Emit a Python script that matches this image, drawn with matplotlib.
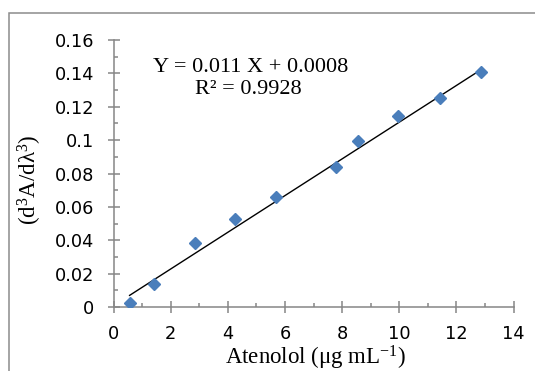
import matplotlib.pyplot as plt
from matplotlib.patches import Rectangle
from matplotlib.ticker import MultipleLocator, FuncFormatter
import numpy as np

# values
conc = [0.56, 1.42, 2.84, 4.24, 5.67, 7.79, 8.56, 9.97, 11.41, 12.87]
d3_signal = [0.0026, 0.0136, 0.0382, 0.0527, 0.0657, 0.0841, 0.0995, 0.1143, 0.125, 0.1408]
slope = 0.011
intercept = 0.0008
eq_text = 'Y = 0.011 X + 0.0008'
r2_text = 'R² = 0.9928'

plt.rcParams['mathtext.fontset'] = 'custom'
plt.rcParams['mathtext.rm'] = 'Liberation Serif'
plt.rcParams['mathtext.it'] = 'Liberation Serif:italic'

fig = plt.figure(figsize=(5.35, 3.71), dpi=100)
ax = fig.add_axes([0.2123, 0.1725, 0.7477, 0.7195])

ax.plot(conc, d3_signal, linestyle='none', marker='D', markersize=6.4,
        color='#4a7ebb', zorder=3)
xs = np.array([min(conc), max(conc)])
ax.plot(xs, slope * xs + intercept, color='black', lw=1.0, zorder=2)

ax.set_xlim(0, 14)
ax.set_ylim(0, 0.16)
ax.xaxis.set_major_locator(MultipleLocator(2))
ax.xaxis.set_minor_locator(MultipleLocator(1))
ax.yaxis.set_major_locator(MultipleLocator(0.02))
ax.yaxis.set_minor_locator(MultipleLocator(0.01))
ax.yaxis.set_major_formatter(FuncFormatter(lambda v, p: '%g' % round(v, 3)))

for s in ['top', 'right']:
    ax.spines[s].set_visible(False)
for s in ['left', 'bottom']:
    ax.spines[s].set_color('#868686')
    ax.spines[s].set_linewidth(1.1)

ax.tick_params(which='major', direction='inout', length=8, width=1.1,
               color='#868686', labelsize=12.8, labelcolor='black')
ax.tick_params(which='minor', direction='in', length=3, width=1.1, color='#868686')
ax.tick_params(axis='y', which='major', pad=10)
ax.tick_params(axis='x', which='major', pad=9)

ax.text(0.343, 0.899, eq_text, transform=ax.transAxes, ha='center', va='center',
        family='Liberation Serif', fontsize=16)
ax.text(0.338, 0.813, r2_text, transform=ax.transAxes, ha='center', va='center',
        family='Liberation Serif', fontsize=16)

fig.text(315.5 / 535, 1 - 364 / 371, 'Atenolol (μg mL$^{\\mathregular{-1}}$)',
         ha='center', va='baseline', family='Liberation Serif', fontsize=16.5)
fig.text(37 / 535, 1 - 180 / 371, '(d$^{\\mathregular{3}}$A/dλ$^{\\mathregular{3}}$)',
         ha='center', va='baseline', rotation=90, rotation_mode='anchor',
         family='Liberation Serif', fontsize=16.5)

# chart area border, cut off at right and bottom like the reference
fig.patches.append(Rectangle((8.5 / 535, -0.1), 1.2, 1 - 12.7 / 371 + 0.1,
                             transform=fig.transFigure, fill=False,
                             edgecolor='#8c8c8c', lw=1.1, clip_on=False))

fig.savefig('out.png', dpi=100)
